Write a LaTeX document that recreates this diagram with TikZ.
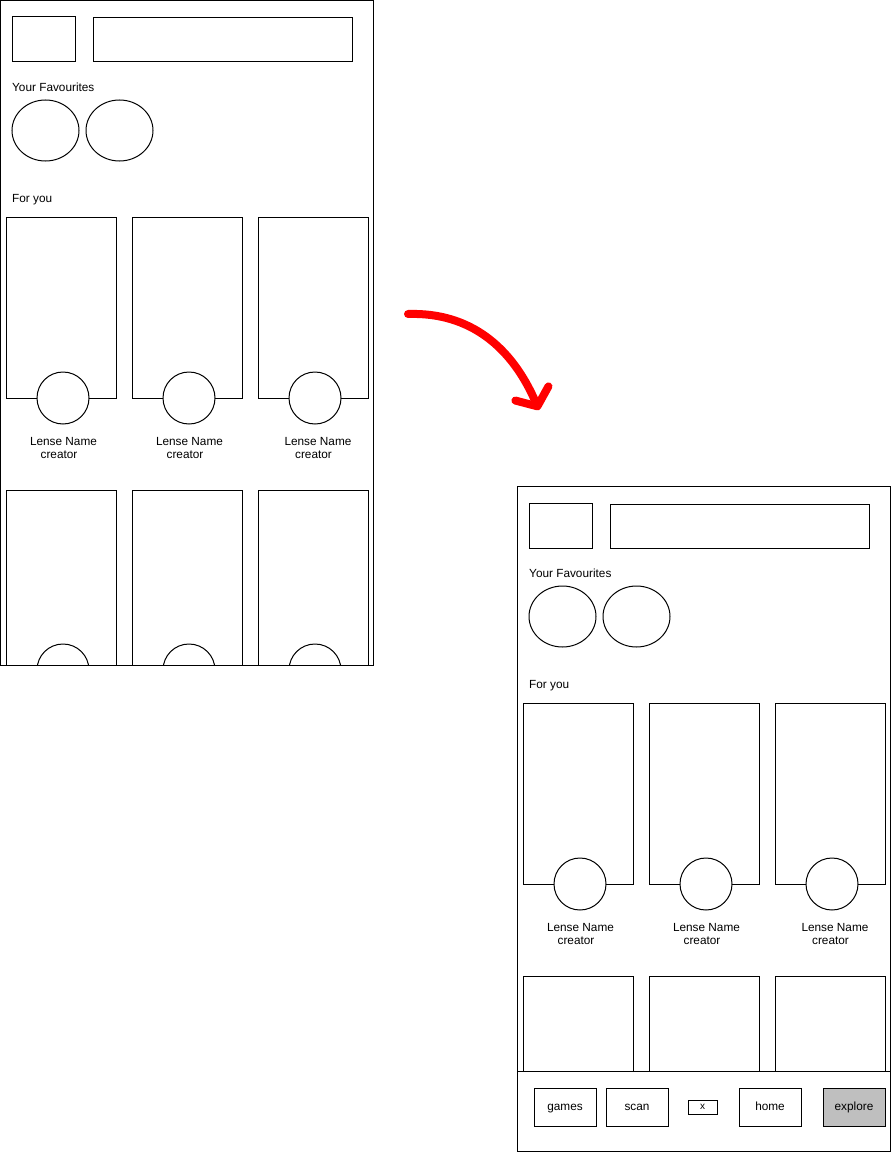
\documentclass[tikz,border=0pt]{standalone}
\usepackage{fontspec}
\setmainfont{Liberation Sans}
\usepackage{tikz}
\usetikzlibrary{arrows.meta}

\begin{document}
\begin{tikzpicture}[x=1pt,y=-1pt,
    box/.style={draw,line width=1pt},
    txt/.style={font=\fontsize{11.8}{14}\selectfont,inner sep=0pt},
    navbtn/.style={draw,line width=1pt,minimum width=62pt,minimum height=38pt,txt,
      text height=8.5pt,text depth=2.5pt},
  ]
    \useasboundingbox (0,0) rectangle (892,1153);

    % Screens
    \foreach \p/\dx/\dy in {a/0/0,b/517/486} {
      \begin{scope}[shift={(\dx,\dy)}]
        \begin{scope}
          \clip (0.5,0.5) rectangle (373.5,665.5);
          % Header
          \draw[box] (12,17) rectangle (75,62);
          \draw[box] (93,18) rectangle (352,62);

          % Favourites
          \node[txt,anchor=west] (fav-\p) at (12,87.5) {Your Favourites};
          \draw[box] (45.5,130.5) ellipse [x radius=33.5,y radius=30.5];
          \draw[box] (119.5,130.5) ellipse [x radius=33.5,y radius=30.5];

          % Cards
          \node[txt,anchor=west] (foryou-\p) at (12,200) {For you};
          \foreach \c/\tx in {0/63.5,1/189.5,2/318} {
            \draw[box] (6+126*\c,217) rectangle (116+126*\c,398);
            \draw[box,fill=white] (63+126*\c,398) circle [radius=26];
            \node[txt] (lense-\p\c) at (\tx,441) {Lense Name};
            \node[txt] (creator-\p\c) at (\tx-4.5,455) {creator};
            \draw[box] (6+126*\c,490) rectangle (116+126*\c,720);
            \draw[box,fill=white] (63+126*\c,670) circle [radius=26];
          }
        \end{scope}
        \draw[box] (0.5,0.5) rectangle (373.5,665.5);
      \end{scope}
    }

    % Navigation bar
    \draw[box,fill=white] (517.5,1071) rectangle (890.5,1151.5);
    \node[navbtn] (games) at (565,1107) {games};
    \node[navbtn] (scan) at (637,1107) {scan};
    \node[draw,line width=1pt,minimum width=29pt,minimum height=14pt,txt,
      font=\fontsize{10}{12}\selectfont] (close) at (702.5,1107) {x};
    \node[navbtn] (home) at (770,1107) {home};
    \node[navbtn,fill=black!25] (explore) at (854,1107) {explore};

    % Arrow
    \coordinate (arrow-start) at (408,314);
    \coordinate (arrow-end) at (539,410);
    \draw[red,line width=8pt,line cap=round,-{Straight Barb[length=14pt,width=36pt,round]}]
      (arrow-start) .. controls (470,312) and (512,347) .. (arrow-end);
\end{tikzpicture}
\end{document}
